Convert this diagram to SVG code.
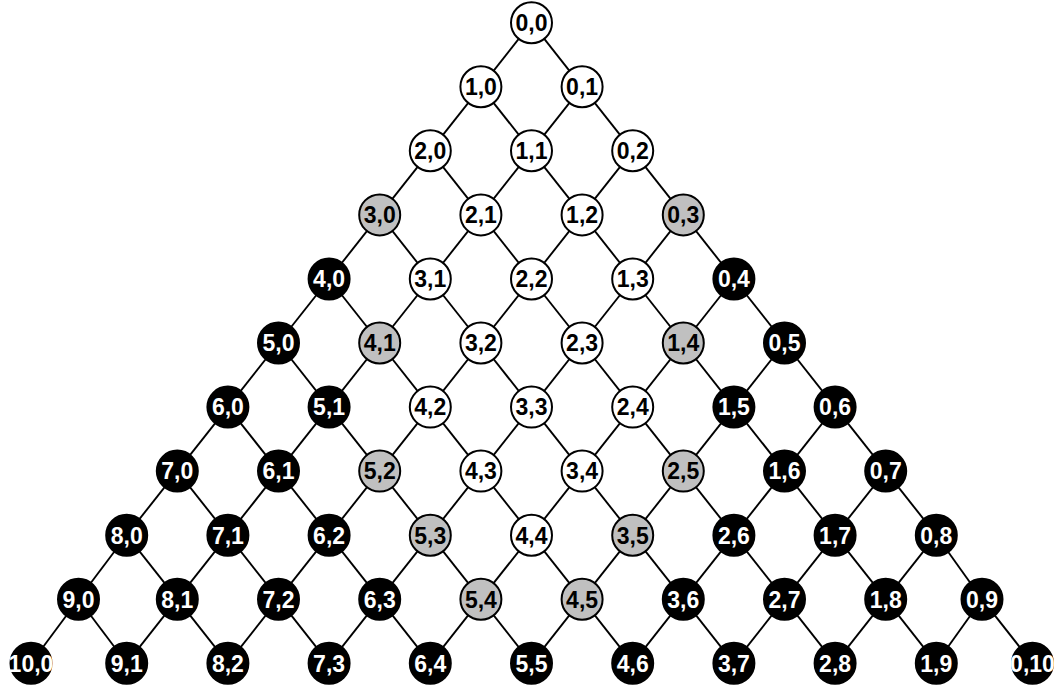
<svg xmlns="http://www.w3.org/2000/svg" width="1059" height="692" viewBox="0 0 1059 692">
<style>
.edges line{stroke:#000;stroke-width:1.9;fill:none}
circle{stroke:#000;stroke-width:2}
.w circle{fill:#fff}
.g circle{fill:#c0c0c0}
.b circle{fill:#000}
text{font-family:"Liberation Sans",Arial,sans-serif;font-weight:bold;font-size:23px;text-anchor:middle}
.w text,.g text{fill:#000}
.b text{fill:#fff}
</style>
<rect width="1059" height="692" fill="#fff"/>
<g id="connectors" class="edges">
<line x1="531.5" y1="22.7" x2="480.9" y2="86.8"/><line x1="531.5" y1="22.7" x2="582.1" y2="86.8"/>
<line x1="480.9" y1="86.8" x2="430.3" y2="150.8"/><line x1="480.9" y1="86.8" x2="531.5" y2="150.8"/>
<line x1="582.1" y1="86.8" x2="531.5" y2="150.8"/><line x1="582.1" y1="86.8" x2="632.7" y2="150.8"/>
<line x1="430.3" y1="150.8" x2="379.7" y2="214.9"/><line x1="430.3" y1="150.8" x2="480.9" y2="214.9"/>
<line x1="531.5" y1="150.8" x2="480.9" y2="214.9"/><line x1="531.5" y1="150.8" x2="582.1" y2="214.9"/>
<line x1="632.7" y1="150.8" x2="582.1" y2="214.9"/><line x1="632.7" y1="150.8" x2="683.3" y2="214.9"/>
<line x1="379.7" y1="214.9" x2="329.1" y2="279"/><line x1="379.7" y1="214.9" x2="430.3" y2="279"/>
<line x1="480.9" y1="214.9" x2="430.3" y2="279"/><line x1="480.9" y1="214.9" x2="531.5" y2="279"/>
<line x1="582.1" y1="214.9" x2="531.5" y2="279"/><line x1="582.1" y1="214.9" x2="632.7" y2="279"/>
<line x1="683.3" y1="214.9" x2="632.7" y2="279"/><line x1="683.3" y1="214.9" x2="733.9" y2="279"/>
<line x1="329.1" y1="279" x2="278.5" y2="343"/><line x1="329.1" y1="279" x2="379.7" y2="343"/>
<line x1="430.3" y1="279" x2="379.7" y2="343"/><line x1="430.3" y1="279" x2="480.9" y2="343"/>
<line x1="531.5" y1="279" x2="480.9" y2="343"/><line x1="531.5" y1="279" x2="582.1" y2="343"/>
<line x1="632.7" y1="279" x2="582.1" y2="343"/><line x1="632.7" y1="279" x2="683.3" y2="343"/>
<line x1="733.9" y1="279" x2="683.3" y2="343"/><line x1="733.9" y1="279" x2="784.5" y2="343"/>
<line x1="278.5" y1="343" x2="227.9" y2="407.1"/><line x1="278.5" y1="343" x2="329.1" y2="407.1"/>
<line x1="379.7" y1="343" x2="329.1" y2="407.1"/><line x1="379.7" y1="343" x2="430.3" y2="407.1"/>
<line x1="480.9" y1="343" x2="430.3" y2="407.1"/><line x1="480.9" y1="343" x2="531.5" y2="407.1"/>
<line x1="582.1" y1="343" x2="531.5" y2="407.1"/><line x1="582.1" y1="343" x2="632.7" y2="407.1"/>
<line x1="683.3" y1="343" x2="632.7" y2="407.1"/><line x1="683.3" y1="343" x2="733.9" y2="407.1"/>
<line x1="784.5" y1="343" x2="733.9" y2="407.1"/><line x1="784.5" y1="343" x2="835.1" y2="407.1"/>
<line x1="227.9" y1="407.1" x2="177.3" y2="471.1"/><line x1="227.9" y1="407.1" x2="278.5" y2="471.1"/>
<line x1="329.1" y1="407.1" x2="278.5" y2="471.1"/><line x1="329.1" y1="407.1" x2="379.7" y2="471.1"/>
<line x1="430.3" y1="407.1" x2="379.7" y2="471.1"/><line x1="430.3" y1="407.1" x2="480.9" y2="471.1"/>
<line x1="531.5" y1="407.1" x2="480.9" y2="471.1"/><line x1="531.5" y1="407.1" x2="582.1" y2="471.1"/>
<line x1="632.7" y1="407.1" x2="582.1" y2="471.1"/><line x1="632.7" y1="407.1" x2="683.3" y2="471.1"/>
<line x1="733.9" y1="407.1" x2="683.3" y2="471.1"/><line x1="733.9" y1="407.1" x2="784.5" y2="471.1"/>
<line x1="835.1" y1="407.1" x2="784.5" y2="471.1"/><line x1="835.1" y1="407.1" x2="885.7" y2="471.1"/>
<line x1="177.3" y1="471.1" x2="126.7" y2="535.2"/><line x1="177.3" y1="471.1" x2="227.9" y2="535.2"/>
<line x1="278.5" y1="471.1" x2="227.9" y2="535.2"/><line x1="278.5" y1="471.1" x2="329.1" y2="535.2"/>
<line x1="379.7" y1="471.1" x2="329.1" y2="535.2"/><line x1="379.7" y1="471.1" x2="430.3" y2="535.2"/>
<line x1="480.9" y1="471.1" x2="430.3" y2="535.2"/><line x1="480.9" y1="471.1" x2="531.5" y2="535.2"/>
<line x1="582.1" y1="471.1" x2="531.5" y2="535.2"/><line x1="582.1" y1="471.1" x2="632.7" y2="535.2"/>
<line x1="683.3" y1="471.1" x2="632.7" y2="535.2"/><line x1="683.3" y1="471.1" x2="733.9" y2="535.2"/>
<line x1="784.5" y1="471.1" x2="733.9" y2="535.2"/><line x1="784.5" y1="471.1" x2="835.1" y2="535.2"/>
<line x1="885.7" y1="471.1" x2="835.1" y2="535.2"/><line x1="885.7" y1="471.1" x2="936.3" y2="535.2"/>
<line x1="126.7" y1="535.2" x2="78.5" y2="599.2"/><line x1="126.7" y1="535.2" x2="177.3" y2="599.2"/>
<line x1="227.9" y1="535.2" x2="177.3" y2="599.2"/><line x1="227.9" y1="535.2" x2="278.5" y2="599.2"/>
<line x1="329.1" y1="535.2" x2="278.5" y2="599.2"/><line x1="329.1" y1="535.2" x2="379.7" y2="599.2"/>
<line x1="430.3" y1="535.2" x2="379.7" y2="599.2"/><line x1="430.3" y1="535.2" x2="480.9" y2="599.2"/>
<line x1="531.5" y1="535.2" x2="480.9" y2="599.2"/><line x1="531.5" y1="535.2" x2="582.1" y2="599.2"/>
<line x1="632.7" y1="535.2" x2="582.1" y2="599.2"/><line x1="632.7" y1="535.2" x2="683.3" y2="599.2"/>
<line x1="733.9" y1="535.2" x2="683.3" y2="599.2"/><line x1="733.9" y1="535.2" x2="784.5" y2="599.2"/>
<line x1="835.1" y1="535.2" x2="784.5" y2="599.2"/><line x1="835.1" y1="535.2" x2="885.7" y2="599.2"/>
<line x1="936.3" y1="535.2" x2="885.7" y2="599.2"/><line x1="936.3" y1="535.2" x2="982" y2="599.2"/>
<line x1="78.5" y1="599.2" x2="31" y2="663.3"/><line x1="78.5" y1="599.2" x2="126.7" y2="663.3"/>
<line x1="177.3" y1="599.2" x2="126.7" y2="663.3"/><line x1="177.3" y1="599.2" x2="227.9" y2="663.3"/>
<line x1="278.5" y1="599.2" x2="227.9" y2="663.3"/><line x1="278.5" y1="599.2" x2="329.1" y2="663.3"/>
<line x1="379.7" y1="599.2" x2="329.1" y2="663.3"/><line x1="379.7" y1="599.2" x2="430.3" y2="663.3"/>
<line x1="480.9" y1="599.2" x2="430.3" y2="663.3"/><line x1="480.9" y1="599.2" x2="531.5" y2="663.3"/>
<line x1="582.1" y1="599.2" x2="531.5" y2="663.3"/><line x1="582.1" y1="599.2" x2="632.7" y2="663.3"/>
<line x1="683.3" y1="599.2" x2="632.7" y2="663.3"/><line x1="683.3" y1="599.2" x2="733.9" y2="663.3"/>
<line x1="784.5" y1="599.2" x2="733.9" y2="663.3"/><line x1="784.5" y1="599.2" x2="835.1" y2="663.3"/>
<line x1="885.7" y1="599.2" x2="835.1" y2="663.3"/><line x1="885.7" y1="599.2" x2="936.3" y2="663.3"/>
<line x1="982" y1="599.2" x2="936.3" y2="663.3"/><line x1="982" y1="599.2" x2="1032.5" y2="663.3"/>
</g>
<g id="n0_0" class="w"><circle cx="531.5" cy="22.7" r="20.5"/><text x="531.5" y="31">0,0</text></g>
<g id="n1_0" class="w"><circle cx="480.9" cy="86.8" r="20.5"/><text x="480.9" y="95.1">1,0</text></g>
<g id="n0_1" class="w"><circle cx="582.1" cy="86.8" r="20.5"/><text x="582.1" y="95.1">0,1</text></g>
<g id="n2_0" class="w"><circle cx="430.3" cy="150.8" r="20.5"/><text x="430.3" y="159.1">2,0</text></g>
<g id="n1_1" class="w"><circle cx="531.5" cy="150.8" r="20.5"/><text x="531.5" y="159.1">1,1</text></g>
<g id="n0_2" class="w"><circle cx="632.7" cy="150.8" r="20.5"/><text x="632.7" y="159.1">0,2</text></g>
<g id="n3_0" class="g"><circle cx="379.7" cy="214.9" r="20.5"/><text x="379.7" y="223.2">3,0</text></g>
<g id="n2_1" class="w"><circle cx="480.9" cy="214.9" r="20.5"/><text x="480.9" y="223.2">2,1</text></g>
<g id="n1_2" class="w"><circle cx="582.1" cy="214.9" r="20.5"/><text x="582.1" y="223.2">1,2</text></g>
<g id="n0_3" class="g"><circle cx="683.3" cy="214.9" r="20.5"/><text x="683.3" y="223.2">0,3</text></g>
<g id="n4_0" class="b"><circle cx="329.1" cy="279" r="20.5"/><text x="329.1" y="287.3">4,0</text></g>
<g id="n3_1" class="w"><circle cx="430.3" cy="279" r="20.5"/><text x="430.3" y="287.3">3,1</text></g>
<g id="n2_2" class="w"><circle cx="531.5" cy="279" r="20.5"/><text x="531.5" y="287.3">2,2</text></g>
<g id="n1_3" class="w"><circle cx="632.7" cy="279" r="20.5"/><text x="632.7" y="287.3">1,3</text></g>
<g id="n0_4" class="b"><circle cx="733.9" cy="279" r="20.5"/><text x="733.9" y="287.3">0,4</text></g>
<g id="n5_0" class="b"><circle cx="278.5" cy="343" r="20.5"/><text x="278.5" y="351.3">5,0</text></g>
<g id="n4_1" class="g"><circle cx="379.7" cy="343" r="20.5"/><text x="379.7" y="351.3">4,1</text></g>
<g id="n3_2" class="w"><circle cx="480.9" cy="343" r="20.5"/><text x="480.9" y="351.3">3,2</text></g>
<g id="n2_3" class="w"><circle cx="582.1" cy="343" r="20.5"/><text x="582.1" y="351.3">2,3</text></g>
<g id="n1_4" class="g"><circle cx="683.3" cy="343" r="20.5"/><text x="683.3" y="351.3">1,4</text></g>
<g id="n0_5" class="b"><circle cx="784.5" cy="343" r="20.5"/><text x="784.5" y="351.3">0,5</text></g>
<g id="n6_0" class="b"><circle cx="227.9" cy="407.1" r="20.5"/><text x="227.9" y="415.4">6,0</text></g>
<g id="n5_1" class="b"><circle cx="329.1" cy="407.1" r="20.5"/><text x="329.1" y="415.4">5,1</text></g>
<g id="n4_2" class="w"><circle cx="430.3" cy="407.1" r="20.5"/><text x="430.3" y="415.4">4,2</text></g>
<g id="n3_3" class="w"><circle cx="531.5" cy="407.1" r="20.5"/><text x="531.5" y="415.4">3,3</text></g>
<g id="n2_4" class="w"><circle cx="632.7" cy="407.1" r="20.5"/><text x="632.7" y="415.4">2,4</text></g>
<g id="n1_5" class="b"><circle cx="733.9" cy="407.1" r="20.5"/><text x="733.9" y="415.4">1,5</text></g>
<g id="n0_6" class="b"><circle cx="835.1" cy="407.1" r="20.5"/><text x="835.1" y="415.4">0,6</text></g>
<g id="n7_0" class="b"><circle cx="177.3" cy="471.1" r="20.5"/><text x="177.3" y="479.4">7,0</text></g>
<g id="n6_1" class="b"><circle cx="278.5" cy="471.1" r="20.5"/><text x="278.5" y="479.4">6,1</text></g>
<g id="n5_2" class="g"><circle cx="379.7" cy="471.1" r="20.5"/><text x="379.7" y="479.4">5,2</text></g>
<g id="n4_3" class="w"><circle cx="480.9" cy="471.1" r="20.5"/><text x="480.9" y="479.4">4,3</text></g>
<g id="n3_4" class="w"><circle cx="582.1" cy="471.1" r="20.5"/><text x="582.1" y="479.4">3,4</text></g>
<g id="n2_5" class="g"><circle cx="683.3" cy="471.1" r="20.5"/><text x="683.3" y="479.4">2,5</text></g>
<g id="n1_6" class="b"><circle cx="784.5" cy="471.1" r="20.5"/><text x="784.5" y="479.4">1,6</text></g>
<g id="n0_7" class="b"><circle cx="885.7" cy="471.1" r="20.5"/><text x="885.7" y="479.4">0,7</text></g>
<g id="n8_0" class="b"><circle cx="126.7" cy="535.2" r="20.5"/><text x="126.7" y="543.5">8,0</text></g>
<g id="n7_1" class="b"><circle cx="227.9" cy="535.2" r="20.5"/><text x="227.9" y="543.5">7,1</text></g>
<g id="n6_2" class="b"><circle cx="329.1" cy="535.2" r="20.5"/><text x="329.1" y="543.5">6,2</text></g>
<g id="n5_3" class="g"><circle cx="430.3" cy="535.2" r="20.5"/><text x="430.3" y="543.5">5,3</text></g>
<g id="n4_4" class="w"><circle cx="531.5" cy="535.2" r="20.5"/><text x="531.5" y="543.5">4,4</text></g>
<g id="n3_5" class="g"><circle cx="632.7" cy="535.2" r="20.5"/><text x="632.7" y="543.5">3,5</text></g>
<g id="n2_6" class="b"><circle cx="733.9" cy="535.2" r="20.5"/><text x="733.9" y="543.5">2,6</text></g>
<g id="n1_7" class="b"><circle cx="835.1" cy="535.2" r="20.5"/><text x="835.1" y="543.5">1,7</text></g>
<g id="n0_8" class="b"><circle cx="936.3" cy="535.2" r="20.5"/><text x="936.3" y="543.5">0,8</text></g>
<g id="n9_0" class="b"><circle cx="78.5" cy="599.2" r="20.5"/><text x="78.5" y="607.5">9,0</text></g>
<g id="n8_1" class="b"><circle cx="177.3" cy="599.2" r="20.5"/><text x="177.3" y="607.5">8,1</text></g>
<g id="n7_2" class="b"><circle cx="278.5" cy="599.2" r="20.5"/><text x="278.5" y="607.5">7,2</text></g>
<g id="n6_3" class="b"><circle cx="379.7" cy="599.2" r="20.5"/><text x="379.7" y="607.5">6,3</text></g>
<g id="n5_4" class="g"><circle cx="480.9" cy="599.2" r="20.5"/><text x="480.9" y="607.5">5,4</text></g>
<g id="n4_5" class="g"><circle cx="582.1" cy="599.2" r="20.5"/><text x="582.1" y="607.5">4,5</text></g>
<g id="n3_6" class="b"><circle cx="683.3" cy="599.2" r="20.5"/><text x="683.3" y="607.5">3,6</text></g>
<g id="n2_7" class="b"><circle cx="784.5" cy="599.2" r="20.5"/><text x="784.5" y="607.5">2,7</text></g>
<g id="n1_8" class="b"><circle cx="885.7" cy="599.2" r="20.5"/><text x="885.7" y="607.5">1,8</text></g>
<g id="n0_9" class="b"><circle cx="982" cy="599.2" r="20.5"/><text x="982" y="607.5">0,9</text></g>
<g id="n10_0" class="b"><circle cx="31" cy="663.3" r="20.5"/><text x="31" y="671.6">10,0</text></g>
<g id="n9_1" class="b"><circle cx="126.7" cy="663.3" r="20.5"/><text x="126.7" y="671.6">9,1</text></g>
<g id="n8_2" class="b"><circle cx="227.9" cy="663.3" r="20.5"/><text x="227.9" y="671.6">8,2</text></g>
<g id="n7_3" class="b"><circle cx="329.1" cy="663.3" r="20.5"/><text x="329.1" y="671.6">7,3</text></g>
<g id="n6_4" class="b"><circle cx="430.3" cy="663.3" r="20.5"/><text x="430.3" y="671.6">6,4</text></g>
<g id="n5_5" class="b"><circle cx="531.5" cy="663.3" r="20.5"/><text x="531.5" y="671.6">5,5</text></g>
<g id="n4_6" class="b"><circle cx="632.7" cy="663.3" r="20.5"/><text x="632.7" y="671.6">4,6</text></g>
<g id="n3_7" class="b"><circle cx="733.9" cy="663.3" r="20.5"/><text x="733.9" y="671.6">3,7</text></g>
<g id="n2_8" class="b"><circle cx="835.1" cy="663.3" r="20.5"/><text x="835.1" y="671.6">2,8</text></g>
<g id="n1_9" class="b"><circle cx="936.3" cy="663.3" r="20.5"/><text x="936.3" y="671.6">1,9</text></g>
<g id="n0_10" class="b"><circle cx="1032.5" cy="663.3" r="20.5"/><text x="1032.5" y="671.6">0,10</text></g>
</svg>
